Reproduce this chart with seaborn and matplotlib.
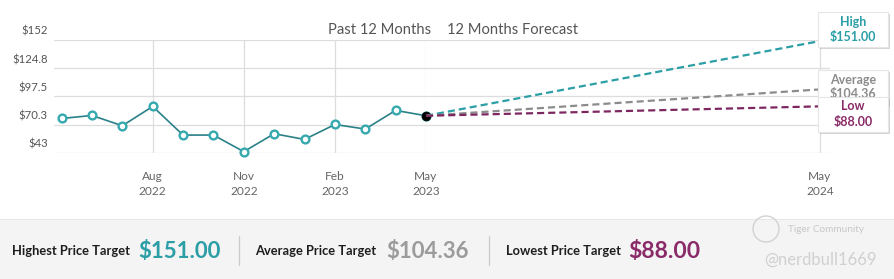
import numpy as np
import pandas as pd
import seaborn as sns
import matplotlib
matplotlib.use("Agg")
import matplotlib.pyplot as plt
from matplotlib.transforms import ScaledTranslation
from matplotlib.patches import Rectangle, Circle
from matplotlib.lines import Line2D
import matplotlib.patheffects as pe

# ---------------- data ----------------
past_month_idx = list(range(13))  # May 2022 .. May 2023
past_prices = [76.3, 79.2, 69.3, 87.9, 60.3, 60.3, 44.3, 61.6, 56.1, 70.5, 66.1, 84.1, 78.9]
past_tick_idx = [3, 6, 9, 12]
past_tick_labels = ["Aug\n2022", "Nov\n2022", "Feb\n2023", "May\n2023"]
forecast_months = [0, 12]
forecast_tick_idx = [12]
forecast_tick_labels = ["May\n2024"]
target_names = ["High", "Average", "Low"]
target_values = [151.00, 104.36, 88.00]
ytick_vals = [43, 70.25, 97.5, 124.75, 152]
ytick_labels = ["$43", "$70.3", "$97.5", "$124.8", "$152"]

# ---------------- style ----------------
sns.set_style("white")
plt.rcParams["font.family"] = ["Lato", "DejaVu Sans"]

TEAL = "#2b9ea6"
TEAL_LINE = "#2a8188"
GRAY = "#8c8c8c"
PURPLE = "#8a2a68"
GRID = "#dddddd"
TXT = "#555555"

W, H = 895, 279
fig = plt.figure(figsize=(W / 100, H / 100), dpi=100)


def fx(px):
    return px / W


def fy(py):
    return 1 - py / H


# bottom band
fig.add_artist(Rectangle((0, 0), 1, fy(219), transform=fig.transFigure,
                         facecolor="#f4f4f4", edgecolor="none", zorder=0))
fig.add_artist(Line2D([0, 1], [fy(219), fy(219)], transform=fig.transFigure,
                      color="#e8e8e8", lw=0.8, zorder=0))

ax1 = fig.add_axes([fx(54), fy(153), fx(426) - fx(54), fy(40) - fy(153)])
ax2 = fig.add_axes([fx(426), fy(153), fx(830) - fx(426), fy(40) - fy(153)])

for ax in (ax1, ax2):
    ax.set_facecolor("none")
    ax.set_ylim(43, 152)
    for s in ax.spines.values():
        s.set_visible(False)
    ax.grid(True, color=GRID, lw=0.9)
    ax.set_axisbelow(True)
    ax.tick_params(length=0)

ax1.set_xlim(-0.25, 12)
ax2.set_xlim(0, 12 * (830 - 426) / (820 - 426))

# past line
sns.lineplot(x=past_month_idx, y=past_prices, ax=ax1, color=TEAL_LINE, lw=1.2,
             marker="o", markersize=5.6, markerfacecolor="white",
             markeredgecolor="#35a9ae", markeredgewidth=1.7, clip_on=False, zorder=3)
sns.scatterplot(x=past_month_idx[-1:], y=past_prices[-1:], ax=ax1, color="black",
                s=40, edgecolor="black", zorder=6, clip_on=False)

# forecast
rows = []
for name, val in zip(target_names, target_values):
    rows.append({"month": forecast_months[0], "price": past_prices[-1], "target": name})
    rows.append({"month": forecast_months[1], "price": val, "target": name})
fdf = pd.DataFrame(rows)
sns.lineplot(data=fdf, x="month", y="price", hue="target", hue_order=target_names,
             palette={"High": TEAL, "Average": GRAY, "Low": "#7d2660"},
             ax=ax2, legend=False, lw=1.6, dashes=False, zorder=3)
for ln in ax2.get_lines():
    ln.set_dashes((3.2, 1.8))
    ln.set_clip_on(False)

# ticks
ax1.set_yticks(ytick_vals, ytick_labels)
ax2.set_yticks(ytick_vals, [""] * len(ytick_vals))
ax1.tick_params(axis="y", labelsize=8.2, labelcolor=TXT, pad=4.5)
off = ScaledTranslation(0, 0.095, fig.dpi_scale_trans)
for lab in ax1.get_yticklabels():
    lab.set_transform(lab.get_transform() + off)

ax1.set_xticks(past_tick_idx, past_tick_labels)
ax2.set_xticks(forecast_tick_idx, forecast_tick_labels)
for ax in (ax1, ax2):
    ax.tick_params(axis="x", labelsize=8.6, labelcolor="#666666", pad=13)
    for lab in ax.get_xticklabels():
        lab.set_linespacing(1.45)
ax1.set_xlabel("")
ax1.set_ylabel("")
ax2.set_xlabel("")
ax2.set_ylabel("")

# section titles
fig.text(fx(431), fy(30), "Past 12 Months", ha="right", va="center",
         fontsize=10.6, color=TXT)
fig.text(fx(447), fy(30), "12 Months Forecast", ha="left", va="center",
         fontsize=10.6, color=TXT)

# target boxes
shadow = [pe.withSimplePatchShadow(offset=(1.5, -1.5), shadow_rgbFace="#888888", alpha=0.35)]
boxes = [
    ("High", "$151.00", TEAL, 12, 4),
    ("Average", "$104.36", GRAY, 70, 6),
    ("Low", "$88.00", PURPLE, 97, 8),
]
for name, val, col, top, z in boxes:
    r = Rectangle((fx(818), fy(top + 35)), fx(888) - fx(818), fy(top) - fy(top + 35),
                  transform=fig.transFigure, facecolor="white", edgecolor="#e6e6e6",
                  lw=0.8, zorder=z, path_effects=shadow)
    fig.add_artist(r)
    fig.text(fx(853), fy(top + 9.5), name, ha="center", va="center", fontsize=9,
             fontweight="bold", color=col, zorder=z + 1)
    fig.text(fx(853), fy(top + 24.5), val, ha="center", va="center", fontsize=9,
             fontweight="bold", color=col, zorder=z + 1)

# bottom summary
yb = fy(251)
fig.text(fx(12), yb, "Highest Price Target", ha="left", va="center", fontsize=9.3,
         fontweight="bold", color="#1e1e1e")
fig.text(fx(138), yb, "$151.00", ha="left", va="center", fontsize=16,
         fontweight="bold", color=TEAL)
fig.text(fx(255), yb, "Average Price Target", ha="left", va="center", fontsize=9.3,
         fontweight="bold", color="#1e1e1e")
fig.text(fx(386), yb, "$104.36", ha="left", va="center", fontsize=16,
         fontweight="bold", color="#9b9b9b")
fig.text(fx(506), yb, "Lowest Price Target", ha="left", va="center", fontsize=9.3,
         fontweight="bold", color="#1e1e1e")
fig.text(fx(628), yb, "$88.00", ha="left", va="center", fontsize=16.5,
         fontweight="bold", color=PURPLE)
for xd in (239, 489):
    fig.add_artist(Line2D([fx(xd), fx(xd)], [fy(236), fy(265)], transform=fig.transFigure,
                          color="#cccccc", lw=0.9))

# watermark
fig.add_artist(Circle((766 / 100, (H - 229) / 100), 0.13, transform=fig.dpi_scale_trans,
                      fill=False, edgecolor="#d2d2d2", lw=1.0))
fig.text(fx(788), fy(230), "Tiger Community", ha="left", va="center", fontsize=7.2,
         color="#c8c8c8")
fig.text(fx(764), fy(260), "@nerdbull1669", ha="left", va="center", fontsize=12,
         color="#d0d0d0")

fig.savefig("out.png", dpi=100)
